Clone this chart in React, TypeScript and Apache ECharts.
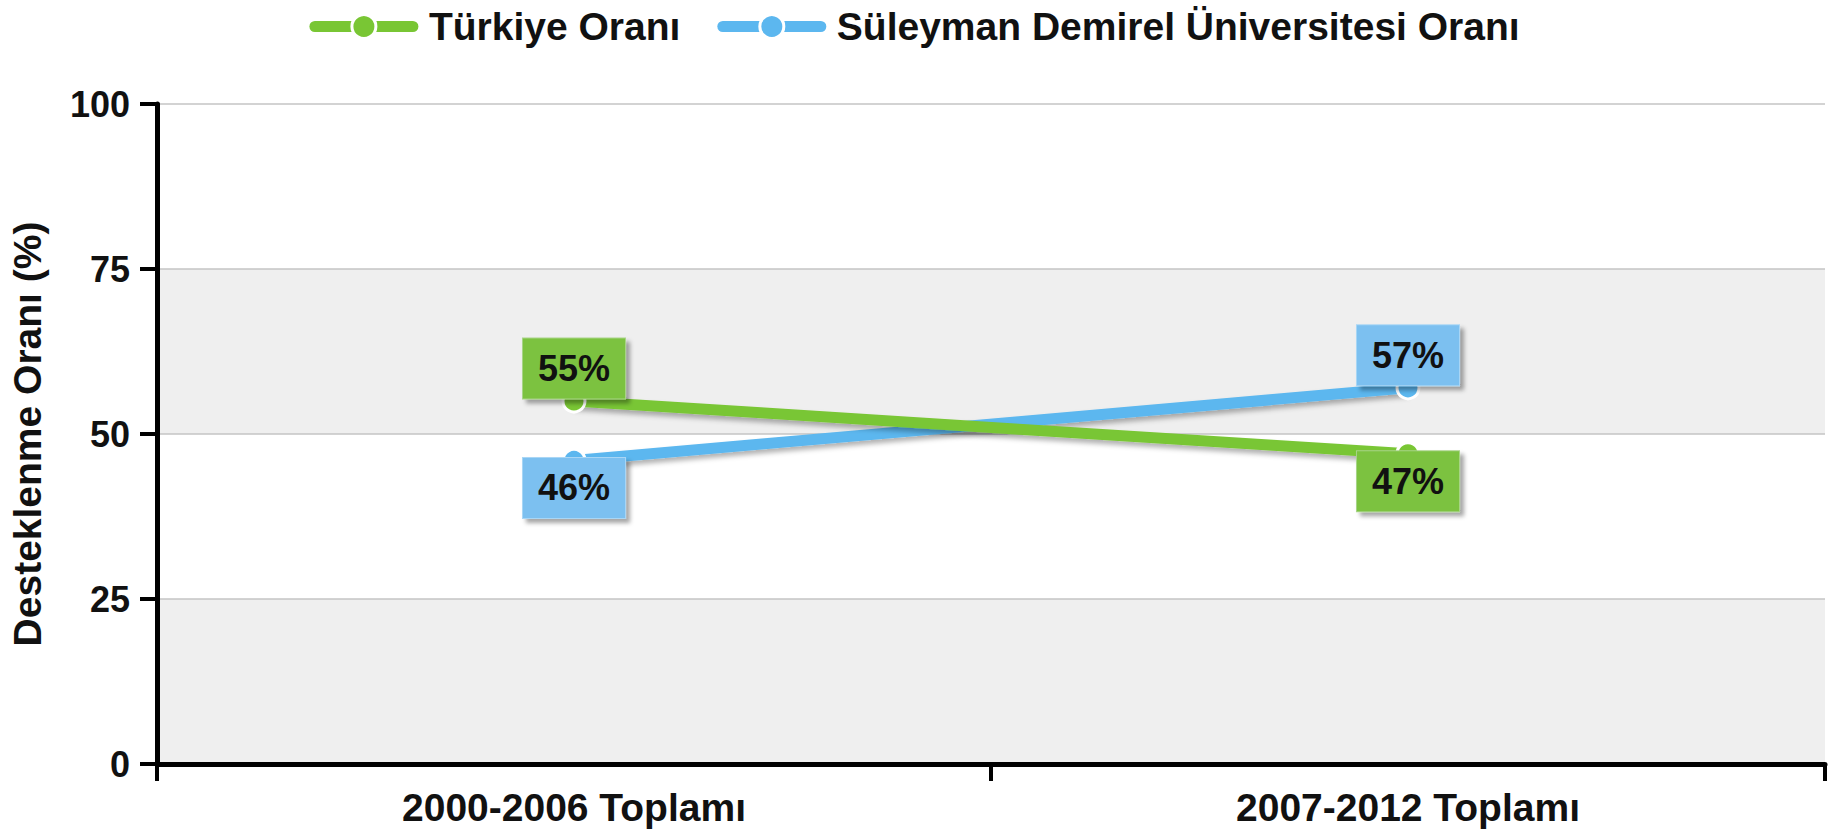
import React, { useEffect, useRef } from "react";
import * as echarts from "echarts";

const categories = ["2000-2006 Toplamı", "2007-2012 Toplamı"];
const turkiyeValues = [55, 47];
const sduValues = [46, 57];
const turkiyeLabelPos = ["top", "bottom"];
const sduLabelPos = ["bottom", "top"];
const yTicks = { min: 0, max: 100, interval: 25 };
const seriesNames = ["Türkiye Oranı", "Süleyman Demirel Üniversitesi Oranı"];
const yAxisName = "Desteklenme Oranı (%)";

const GREEN = "#79c634";
const BLUE = "#5cb7ef";
const FONT = "'Liberation Sans', Arial, Helvetica, sans-serif";

function labelFor(pos: string, bg: string, border: string) {
  return {
    show: true,
    position: pos,
    distance: pos === "top" ? -10 : -15,
    formatter: "{c}%",
    color: "#111",
    fontFamily: FONT,
    fontWeight: "bold",
    fontSize: 36,
    lineHeight: 36,
    padding: [12, 15, 12, 15],
    backgroundColor: bg,
    borderColor: border,
    borderWidth: 1,
    shadowColor: "rgba(0,0,0,0.35)",
    shadowBlur: 4,
    shadowOffsetX: 4,
    shadowOffsetY: 4,
  };
}

export default function App() {
  const ref = useRef<HTMLDivElement>(null);
  useEffect(() => {
    document.body.style.margin = "0";
    const chart = echarts.init(ref.current!, undefined, { renderer: "svg" });
    const lineShadow = {
      shadowColor: "rgba(0,0,0,0.3)",
      shadowBlur: 5,
      shadowOffsetY: 4,
    };
    const legendColors = [GREEN, BLUE];
    chart.setOption({
      animation: false,
      backgroundColor: "#ffffff",
      legend: {
        top: 2,
        left: "center",
        itemWidth: 98,
        itemHeight: 30,
        itemGap: 37,
        textStyle: {
          fontFamily: FONT,
          fontWeight: "bold",
          fontSize: 39,
          color: "#111",
          padding: [0, 0, 0, 11],
        },
        data: seriesNames.map((n, i) => ({
          name: n,
          lineStyle: { color: legendColors[i], width: 11, cap: "round" },
          itemStyle: { color: legendColors[i], borderColor: "#fff", borderWidth: 3 },
        })),
      },
      grid: { left: 155, right: 4, top: 104, bottom: 71, containLabel: false },
      xAxis: {
        type: "category",
        data: categories,
        boundaryGap: true,
        axisLine: { lineStyle: { color: "#000", width: 5 } },
        axisTick: { show: true, length: 17, lineStyle: { color: "#000", width: 4 } },
        axisLabel: {
          color: "#111",
          fontFamily: FONT,
          fontWeight: "bold",
          fontSize: 39,
          margin: 24,
        },
      },
      yAxis: {
        type: "value",
        min: yTicks.min,
        max: yTicks.max,
        interval: yTicks.interval,
        name: yAxisName,
        nameLocation: "middle",
        nameGap: 110,
        nameTextStyle: {
          color: "#111",
          fontFamily: FONT,
          fontWeight: "bold",
          fontSize: 39,
        },
        axisLine: { show: true, lineStyle: { color: "#000", width: 5 } },
        axisTick: { show: true, length: 17, lineStyle: { color: "#000", width: 4 } },
        axisLabel: {
          color: "#111",
          fontFamily: FONT,
          fontWeight: "bold",
          fontSize: 36,
          margin: 27,
        },
        splitLine: { show: true, lineStyle: { color: "#c4c4c4", width: 1.5 } },
        splitArea: { show: true, areaStyle: { color: ["#efefef", "#ffffff"] } },
      },
      series: [
        {
          name: seriesNames[0],
          type: "line",
          data: turkiyeValues.map((v, i) => ({
            value: v,
            label: labelFor(turkiyeLabelPos[i], "#7cc240", "#a8d488"),
          })),
          symbol: "circle",
          symbolSize: 22,
          itemStyle: { color: GREEN, borderColor: "#fff", borderWidth: 3 },
          lineStyle: { color: GREEN, width: 11, ...lineShadow },
          z: 3,
        },
        {
          name: seriesNames[1],
          type: "line",
          data: sduValues.map((v, i) => ({
            value: v,
            label: labelFor(sduLabelPos[i], "#7cc0f0", "#a9d6f5"),
          })),
          symbol: "circle",
          symbolSize: 22,
          itemStyle: { color: BLUE, borderColor: "#fff", borderWidth: 3 },
          lineStyle: { color: BLUE, width: 11, ...lineShadow },
          z: 2,
        },
      ],
    });
    return () => chart.dispose();
  }, []);
  return <div ref={ref} style={{ width: 1829, height: 835 }} />;
}
